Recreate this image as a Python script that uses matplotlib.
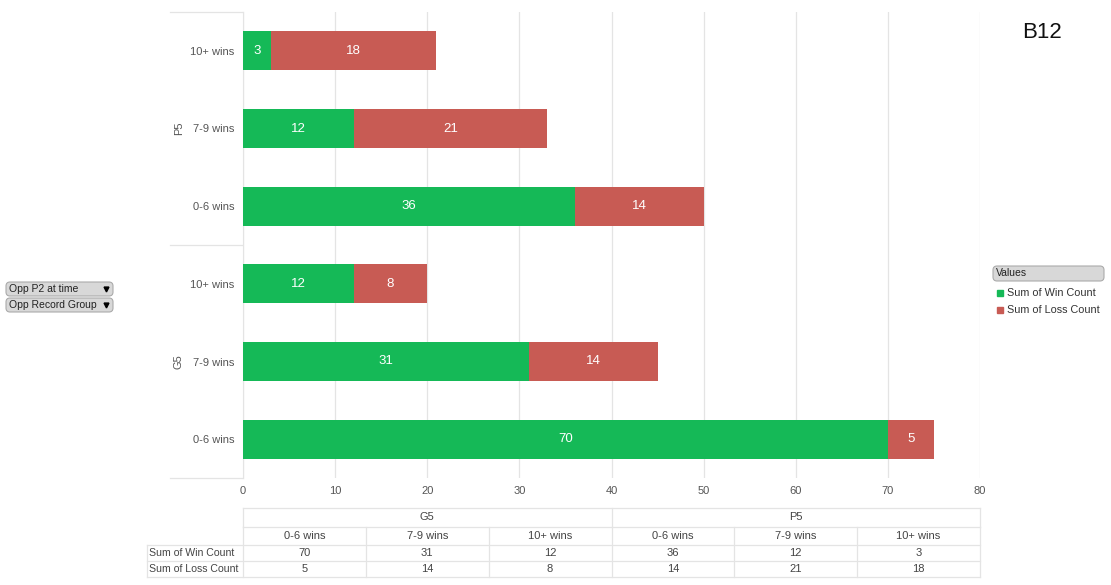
import matplotlib
matplotlib.use("Agg")
from matplotlib import pyplot as plt
from matplotlib.patches import FancyBboxPatch

plt.rcParams['font.family'] = ['Liberation Sans', 'DejaVu Sans']

# data, bottom to top as drawn
groups = ["G5", "P5"]
records = ["0-6 wins", "7-9 wins", "10+ wins"]
win_count = [70, 31, 12, 36, 12, 3]
loss_count = [5, 14, 8, 14, 21, 18]
series_names = ["Sum of Win Count", "Sum of Loss Count"]
x_ticks = [0, 10, 20, 30, 40, 50, 60, 70, 80]

GREEN = "#15b957"
RED = "#c85b54"
GRID = "#e4e4e4"
TXT = "#555555"

W, H = 1111, 585
fig = plt.figure(figsize=(W / 100, H / 100), dpi=100)

# pixel box of the plot area
L, R, T, B = 243, 980, 12, 478
ax = fig.add_axes([L / W, 1 - B / H, (R - L) / W, (B - T) / H])

labels = [r for g in groups for r in records]
ypos = list(range(len(labels)))
bars_w = ax.barh(ypos, win_count, height=0.5, color=GREEN, zorder=3)
bars_l = ax.barh(ypos, loss_count, left=win_count, height=0.5, color=RED, zorder=3)
for bars in (bars_w, bars_l):
    ax.bar_label(bars, label_type="center", color="white", fontsize=9.5)

ax.set_xlim(x_ticks[0], x_ticks[-1])
ax.set_ylim(-0.5, len(labels) - 0.5)
ax.set_xticks(x_ticks)
ax.set_yticks(ypos)
ax.set_yticklabels(labels)
ax.tick_params(axis="both", length=0, labelsize=8, colors=TXT)
ax.tick_params(axis="x", pad=6)
ax.tick_params(axis="y", pad=6)
ax.grid(axis="x", color=GRID, lw=0.9, zorder=0)
for s in ["top", "right", "bottom"]:
    ax.spines[s].set_visible(False)
ax.spines["left"].set_color(GRID)

# overlay in pixel coordinates
ov = fig.add_axes([0, 0, 1, 1], zorder=-1)
ov.set_xlim(0, W)
ov.set_ylim(H, 0)
ov.axis("off")

# group separators and labels on the left
per_group = len(records)
row_px = (B - T) / len(labels)
for i in range(len(groups) + 1):
    y = B - i * per_group * row_px
    ov.plot([170, L], [y, y], color=GRID, lw=0.9)
for i, g in enumerate(groups):
    yc = B - (i + 0.5) * per_group * row_px
    ov.text(179, yc, g, rotation=90, ha="center", va="center", fontsize=8, color=TXT)

ov2 = fig.add_axes([0, 0, 1, 1], zorder=5)
ov2.set_xlim(0, W)
ov2.set_ylim(H, 0)
ov2.axis("off")

# title
ov2.text(1042, 33, "B12", ha="center", va="center", fontsize=16, color="#111111")

# table under the plot
rows_y = [508, 527, 545, 561, 577]
ncol = len(labels)
colw = (R - L) / ncol
tc = "#444444"
fs = 8
ov2.plot([L, R], [rows_y[0], rows_y[0]], color=GRID, lw=0.9)
ov2.plot([L, R], [rows_y[1], rows_y[1]], color=GRID, lw=0.9)
for y in rows_y[2:]:
    ov2.plot([147, R], [y, y], color=GRID, lw=0.9)
for i in range(len(groups) + 1):
    x = L + i * per_group * colw
    ov2.plot([x, x], [rows_y[0], rows_y[1]], color=GRID, lw=0.9)
for j in range(ncol + 1):
    x = L + j * colw
    ov2.plot([x, x], [rows_y[1], rows_y[-1]], color=GRID, lw=0.9)
ov2.plot([147, 147], [rows_y[2], rows_y[-1]], color=GRID, lw=0.9)
for i, g in enumerate(groups):
    xc = L + (i + 0.5) * per_group * colw
    ov2.text(xc, (rows_y[0] + rows_y[1]) / 2, g, ha="center", va="center", fontsize=fs, color=tc)
for j in range(ncol):
    xc = L + (j + 0.5) * colw
    ov2.text(xc, (rows_y[1] + rows_y[2]) / 2, labels[j], ha="center", va="center", fontsize=fs, color=tc)
    ov2.text(xc, (rows_y[2] + rows_y[3]) / 2, str(win_count[j]), ha="center", va="center", fontsize=fs, color=tc)
    ov2.text(xc, (rows_y[3] + rows_y[4]) / 2, str(loss_count[j]), ha="center", va="center", fontsize=fs, color=tc)
for k, name in enumerate(series_names):
    ov2.text(149, (rows_y[2 + k] + rows_y[3 + k]) / 2, name, ha="left", va="center", fontsize=7.6, color=tc)


def button(x0, y0, w, h, text, arrow=True):
    box = FancyBboxPatch((x0, y0), w, h, boxstyle="round,pad=0,rounding_size=4",
                         facecolor="#d8d8d8", edgecolor="#ababab", lw=0.8)
    ov2.add_patch(box)
    ov2.text(x0 + 3, y0 + h / 2, text, ha="left", va="center", fontsize=7.5, color="#222222")
    if arrow:
        ov2.plot(x0 + w - 7, y0 + h / 2, marker="v", color="black", markersize=3.5)


button(6, 282, 107, 14, "Opp P2 at time")
button(6, 298, 107, 14, "Opp Record Group")

# legend
button(993, 266, 111, 15, "Values", arrow=False)
for k, (name, col) in enumerate(zip(series_names, [GREEN, RED])):
    y = 293 + k * 17
    ov2.plot(1000, y, marker="s", color=col, markersize=5)
    ov2.text(1007, y, name, ha="left", va="center", fontsize=7.8, color="#333333")

fig.savefig("out.png", dpi=100)
